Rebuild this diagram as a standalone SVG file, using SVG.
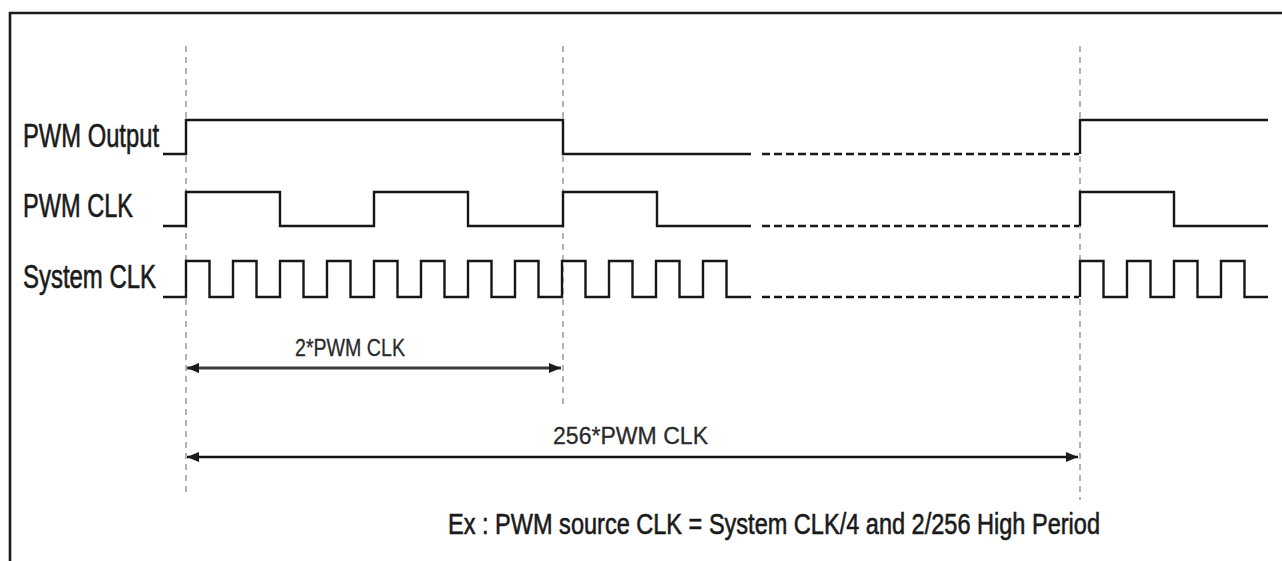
<svg xmlns="http://www.w3.org/2000/svg" width="1282" height="561" viewBox="0 0 1282 561">
  <defs>
    <style>
      .lbl { font-family: "Liberation Sans", Arial, sans-serif; fill: #1a1a1a; stroke: #1a1a1a; stroke-width: 0.6; }
      .sm { stroke-width: 0.3; fill: #2a2a2a; stroke: #2a2a2a; }
      .sig { fill: none; stroke: #161616; stroke-width: 2.4; stroke-linejoin: miter; }
      .cont { fill: none; stroke: #161616; stroke-width: 2.5; stroke-dasharray: 8 4; }
      .guide { fill: none; stroke: #8a8a8a; stroke-width: 1.3; stroke-dasharray: 6 5; }
      .frame { fill: none; stroke: #1a1a1a; stroke-width: 2.6; }
    </style>
    <marker id="ahd" viewBox="0 0 12 10" refX="12" refY="5" markerWidth="12" markerHeight="10" markerUnits="userSpaceOnUse" orient="auto-start-reverse">
      <path d="M0,0 L12,5 L0,10 Z" fill="#1a1a1a"/>
    </marker>
  </defs>
  <rect width="1282" height="561" fill="#ffffff"/>
  <g id="frame">
    <path class="frame" d="M10,561 V13 H1282"/>
  </g>
  <g id="guides">
    <line class="guide" x1="186" y1="46" x2="186" y2="495"/>
    <line class="guide" x1="563" y1="46" x2="563" y2="408"/>
    <line class="guide" x1="1080" y1="46" x2="1080" y2="500"/>
  </g>
  <g id="pwm-output">
    <text class="lbl" x="23" y="147" font-size="33" textLength="136" lengthAdjust="spacingAndGlyphs">PWM Output</text>
    <path class="sig" d="M163,154 H186 V120 H563 V154 H751"/>
    <path class="cont" d="M762,154 H1079"/>
    <path class="sig" d="M1080,154 V120 H1268"/>
  </g>
  <g id="pwm-clk">
    <text class="lbl" x="23" y="217" font-size="33" textLength="110" lengthAdjust="spacingAndGlyphs">PWM CLK</text>
    <path class="sig" d="M163,226 H186 V192 H280 V226 H374 V192 H468 V226 H563 V192 H657 V226 H751"/>
    <path class="cont" d="M762,226 H1079"/>
    <path class="sig" d="M1080,226 V192 H1174 V226 H1268"/>
  </g>
  <g id="system-clk">
    <text class="lbl" x="23" y="288" font-size="33" textLength="133" lengthAdjust="spacingAndGlyphs">System CLK</text>
    <path class="sig" d="M163,297 H186 V261 H209.5 V297 H233 V261 H256.5 V297 H280 V261 H303.5 V297 H327 V261 H350.5 V297 H374 V261 H397.5 V297 H421 V261 H444.5 V297 H468 V261 H491.5 V297 H515 V261 H538.5 V297 H562 V261 H585.5 V297 H609 V261 H632.5 V297 H656 V261 H679.5 V297 H703 V261 H726.5 V297 H751"/>
    <path class="cont" d="M762,297 H1079"/>
    <path class="sig" d="M1080,297 V261 H1103.5 V297 H1127 V261 H1150.5 V297 H1174 V261 H1197.5 V297 H1221 V261 H1244.5 V297 H1268"/>
  </g>
  <g id="connectors">
    <line x1="187" y1="368" x2="561" y2="368" stroke="#3a3a3a" stroke-width="2.8" marker-start="url(#ahd)" marker-end="url(#ahd)"/>
    <line x1="187" y1="457" x2="1078" y2="457" stroke="#111" stroke-width="2.5" marker-start="url(#ahd)" marker-end="url(#ahd)"/>
  </g>
  <g id="label-2pwm">
    <text class="lbl sm" x="295" y="356" font-size="24" textLength="110" lengthAdjust="spacingAndGlyphs">2*PWM CLK</text>
  </g>
  <g id="label-256pwm">
    <text class="lbl sm" x="553" y="444" font-size="24" textLength="155" lengthAdjust="spacingAndGlyphs">256*PWM CLK</text>
  </g>
  <g id="caption">
    <text class="lbl" x="448" y="534" font-size="29" textLength="652" lengthAdjust="spacingAndGlyphs">Ex : PWM source CLK = System CLK/4 and 2/256 High Period</text>
  </g>
</svg>
